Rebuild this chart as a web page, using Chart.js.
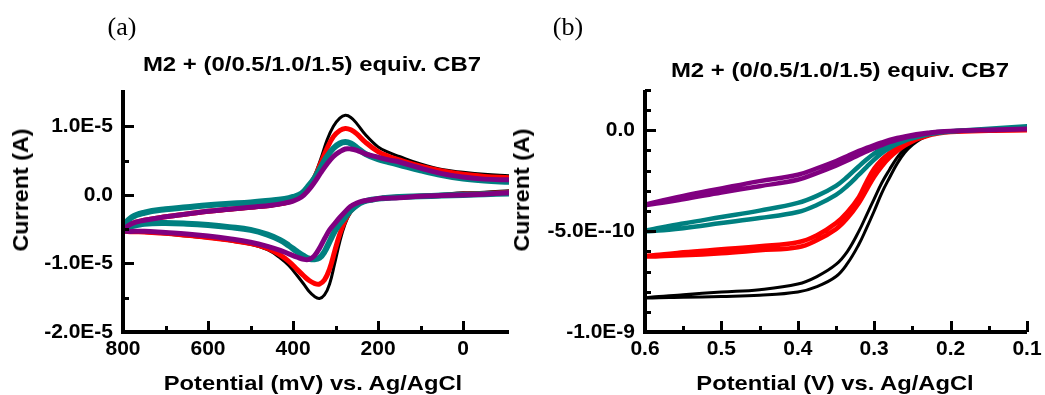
<!DOCTYPE html>
<html>
<head>
<meta charset="utf-8">
<script src="https://cdn.jsdelivr.net/npm/chart.js@4.4.0/dist/chart.umd.min.js"></script>
<style>
  html, body { margin: 0; padding: 0; background: #fff; }
  #wrap { position: relative; width: 1045px; height: 395px; overflow: hidden; background: #fff; }
  canvas { position: absolute; top: 0; }
  .t { position: absolute; white-space: nowrap; line-height: 1; color: #000;
       font-family: 'Liberation Sans', Arial, sans-serif; font-weight: bold; z-index: 2; }
  .pl { font-family: 'Liberation Serif', 'Times New Roman', serif; font-weight: normal; font-size: 26px;
        transform: translate(-50%, -50%); }
  .ttl { font-size: 21px; transform: translate(-50%, -50%) scaleX(1.14); }
  .xt { font-size: 21px; transform: translate(-50%, -50%) scaleX(1.13); }
  .yt { font-size: 22px; transform: translate(-50%, -50%) rotate(-90deg) scaleX(1.06); }
</style>
</head>
<body>
<div id="wrap">
  <canvas id="ca" width="520" height="395" style="left:0px"></canvas>
  <canvas id="cb" width="525" height="395" style="left:520px"></canvas>
  <div class="t pl" style="left:122px; top:27px;">(a)</div>
  <div class="t pl" style="left:568px; top:27px;">(b)</div>
  <div class="t ttl" style="left:312px; top:63px;">M2 + (0/0.5/1.0/1.5) equiv. CB7</div>
  <div class="t ttl" style="left:840px; top:69px;">M2 + (0/0.5/1.0/1.5) equiv. CB7</div>
  <div class="t yt" style="left:21px; top:190px;">Current (A)</div>
  <div class="t yt" style="left:522px; top:190px;">Current (A)</div>
  <div class="t xt" style="left:313px; top:382px;">Potential (mV) vs. Ag/AgCl</div>
  <div class="t xt" style="left:835px; top:382px;">Potential (V) vs. Ag/AgCl</div>
</div>
<script>
// ---------------- Panel (a): cyclic voltammograms ----------------
// Potential in mV, current in units of 1E-5 A
const unitA = 1e-5;
const cvUpperE = [800,780,750,700,650,600,550,500,450,420,400,380,365,350,335,320,305,290,277,264,250,230,200,175,150,100,50,0,-50,-108];
const cvUpperBlack  = [-0.50,-0.42,-0.37,-0.32,-0.28,-0.25,-0.22,-0.19,-0.16,-0.13,-0.09,-0.02,0.09,0.27,0.52,0.80,1.00,1.12,1.16,1.13,1.04,0.88,0.70,0.62,0.56,0.45,0.37,0.33,0.30,0.28];
const cvUpperRed    = [-0.50,-0.42,-0.37,-0.32,-0.28,-0.24,-0.21,-0.18,-0.15,-0.12,-0.08,-0.01,0.09,0.25,0.46,0.68,0.85,0.94,0.97,0.95,0.89,0.77,0.63,0.56,0.51,0.42,0.35,0.30,0.27,0.25];
const cvUpperTeal   = [-0.45,-0.33,-0.26,-0.21,-0.18,-0.15,-0.13,-0.11,-0.08,-0.06,-0.03,0.02,0.12,0.24,0.40,0.56,0.68,0.75,0.77,0.75,0.69,0.60,0.52,0.48,0.44,0.36,0.29,0.24,0.21,0.19];
const cvUpperPurple = [-0.50,-0.42,-0.37,-0.32,-0.28,-0.24,-0.21,-0.18,-0.15,-0.12,-0.09,-0.03,0.06,0.18,0.32,0.45,0.56,0.63,0.67,0.67,0.65,0.60,0.55,0.51,0.48,0.39,0.31,0.26,0.23,0.22];

const cvLowerE = [800,750,700,650,600,550,500,460,430,410,390,375,362,350,338,326,314,302,290,278,265,250,235,215,190,150,100,50,0,-50,-108];
const cvLowerBlack  = [-0.52,-0.55,-0.57,-0.60,-0.63,-0.67,-0.72,-0.80,-0.92,-1.03,-1.18,-1.30,-1.41,-1.48,-1.51,-1.46,-1.30,-1.00,-0.68,-0.43,-0.26,-0.15,-0.10,-0.07,-0.04,-0.02,-0.01,0.01,0.03,0.04,0.06];
const cvLowerRed    = [-0.52,-0.54,-0.56,-0.59,-0.62,-0.66,-0.71,-0.78,-0.88,-0.97,-1.09,-1.18,-1.25,-1.29,-1.30,-1.24,-1.08,-0.82,-0.57,-0.38,-0.24,-0.15,-0.10,-0.07,-0.05,-0.03,-0.02,-0.01,0.01,0.02,0.04];
const cvLowerTeal   = [-0.47,-0.42,-0.41,-0.42,-0.44,-0.47,-0.51,-0.58,-0.66,-0.74,-0.83,-0.89,-0.93,-0.94,-0.92,-0.83,-0.68,-0.53,-0.42,-0.33,-0.23,-0.15,-0.10,-0.07,-0.05,-0.03,-0.02,-0.01,0.00,0.01,0.02];
const cvLowerPurple = [-0.52,-0.53,-0.55,-0.57,-0.60,-0.64,-0.69,-0.75,-0.81,-0.86,-0.91,-0.94,-0.94,-0.89,-0.78,-0.64,-0.51,-0.42,-0.33,-0.25,-0.17,-0.12,-0.09,-0.07,-0.05,-0.04,-0.02,-0.01,0.00,0.01,0.03];

const aXMajor = [800, 600, 400, 200, 0];
const aXLabels = ['800', '600', '400', '200', '0'];
const aXMinor = [700, 500, 300, 100];
const aYMajor = [1e-5, 0, -1e-5, -2e-5];
const aYLabels = ['1.0E-5', '0.0', '-1.0E-5', '-2.0E-5'];
const aYMinor = [0.5e-5, -0.5e-5, -1.5e-5];

// ---------------- Panel (b): voltammograms, two sweeps per trace ----------------
// Potential in V, current in units of 1E-10 A
const unitB = 1e-10;
const lsvE = [0.60,0.55,0.50,0.45,0.40,0.375,0.35,0.335,0.32,0.31,0.30,0.29,0.28,0.27,0.26,0.25,0.24,0.23,0.22,0.20,0.15,0.10];
const lsvBlack1  = [-8.3,-8.15,-8.02,-7.9,-7.62,-7.25,-6.65,-6.0,-5.0,-4.2,-3.4,-2.6,-1.95,-1.35,-0.9,-0.6,-0.38,-0.22,-0.12,-0.02,0.05,0.08];
const lsvBlack2  = [-8.3,-8.28,-8.24,-8.18,-8.02,-7.75,-7.25,-6.6,-5.65,-4.85,-4.0,-3.1,-2.35,-1.65,-1.1,-0.72,-0.45,-0.27,-0.15,-0.04,0.04,0.06];
const lsvRed1    = [-6.25,-6.05,-5.9,-5.75,-5.55,-5.2,-4.6,-4.05,-3.3,-2.55,-1.9,-1.45,-1.12,-0.86,-0.64,-0.47,-0.33,-0.23,-0.15,-0.06,0.0,0.02];
const lsvRed2    = [-6.25,-6.2,-6.1,-5.95,-5.8,-5.45,-4.9,-4.35,-3.6,-2.95,-2.3,-1.78,-1.36,-1.03,-0.76,-0.55,-0.39,-0.27,-0.18,-0.08,-0.02,0.0];
const lsvTeal1   = [-5.0,-4.62,-4.3,-3.98,-3.6,-3.25,-2.75,-2.3,-1.78,-1.45,-1.15,-0.9,-0.7,-0.53,-0.4,-0.3,-0.22,-0.15,-0.1,-0.04,0.08,0.2];
const lsvTeal2   = [-5.0,-4.85,-4.6,-4.35,-4.05,-3.7,-3.2,-2.75,-2.2,-1.82,-1.45,-1.13,-0.88,-0.68,-0.52,-0.4,-0.3,-0.21,-0.14,-0.06,0.06,0.18];
const lsvPurple1 = [-3.7,-3.25,-2.88,-2.52,-2.2,-1.88,-1.52,-1.27,-1.02,-0.87,-0.73,-0.6,-0.48,-0.38,-0.3,-0.23,-0.17,-0.12,-0.08,-0.03,0.03,0.08];
const lsvPurple2 = [-3.7,-3.42,-3.08,-2.77,-2.45,-2.12,-1.75,-1.5,-1.22,-1.05,-0.88,-0.73,-0.59,-0.47,-0.37,-0.29,-0.22,-0.16,-0.11,-0.05,0.01,0.05];

const bXMajor = [0.6, 0.5, 0.4, 0.3, 0.2, 0.1];
const bXLabels = ['0.6', '0.5', '0.4', '0.3', '0.2', '0.1'];
const bXMinor = [0.55, 0.45, 0.35, 0.25, 0.15];
const bYMajor = [0, -5e-10, -1e-9];
const bYLabels = ['0.0', '-5.0E--10', '-1.0E-9'];
const bYMinor = [2e-10, 1e-10, -1e-10, -2e-10, -3e-10, -4e-10, -6e-10, -7e-10, -8e-10, -9e-10];

const colors = { black: '#000000', red: '#ff0000', teal: '#008080', purple: '#800080' };

// CV path: lower branch from right end to 800 mV, then upper branch back to right end
function cvPath(upper, lower) {
  const pts = [];
  for (let i = cvLowerE.length - 1; i >= 0; i--) pts.push({ x: cvLowerE[i], y: lower[i] * unitA });
  for (let i = 1; i < cvUpperE.length; i++) pts.push({ x: cvUpperE[i], y: upper[i] * unitA });
  return pts;
}
// LSV path: sweep 1 from 0.1 V to 0.6 V, sweep 2 back to 0.1 V
function lsvPath(s1, s2) {
  const pts = [];
  for (let i = lsvE.length - 1; i >= 0; i--) pts.push({ x: lsvE[i], y: s1[i] * unitB });
  for (let i = 1; i < lsvE.length; i++) pts.push({ x: lsvE[i], y: s2[i] * unitB });
  return pts;
}

// Axis lines and inward-pointing tick marks, positioned through the chart's scales
const inTicks = {
  id: 'inTicks',
  afterDraw(chart, args, o) {
    const ctx = chart.ctx, area = chart.chartArea;
    const xs = chart.scales.x, ys = chart.scales.y;
    ctx.save();
    ctx.strokeStyle = '#000';
    ctx.lineWidth = 4;
    ctx.lineJoin = 'miter';
    ctx.lineCap = 'butt';
    ctx.beginPath();
    ctx.moveTo(area.left, area.top);
    ctx.lineTo(area.left, area.bottom);
    ctx.lineTo(area.right, area.bottom);
    ctx.stroke();
    ctx.lineWidth = 3;
    const draw = (scale, vals, len) => vals.forEach(v => {
      const p = Math.round(scale.getPixelForValue(v)) + 0.5;
      ctx.beginPath();
      if (scale.isHorizontal()) { ctx.moveTo(p, area.bottom); ctx.lineTo(p, area.bottom - len); }
      else { ctx.moveTo(area.left, p); ctx.lineTo(area.left + len, p); }
      ctx.stroke();
    });
    draw(xs, o.xMajor, 11); draw(xs, o.xMinor, 6);
    draw(ys, o.yMajor, 11); draw(ys, o.yMinor, 6);
    ctx.restore();
  }
};

const tickFont = { family: "'Liberation Sans', Arial, sans-serif", size: 21, weight: 'bold' };

function makeChart(id, datasets, cfg) {
  return new Chart(document.getElementById(id), {
    type: 'line',
    data: { datasets },
    options: {
      responsive: false, animation: false, devicePixelRatio: 1,
      layout: { padding: { left: 0, right: cfg.padRight, top: 90, bottom: 0 } },
      elements: { point: { radius: 0 }, line: { tension: 0.4, borderCapStyle: 'round', borderJoinStyle: 'round' } },
      plugins: { legend: { display: false }, tooltip: { enabled: false }, inTicks: cfg.ticks },
      scales: {
        x: {
          type: 'linear', reverse: true, min: cfg.xMin, max: cfg.xMax,
          grid: { display: false, drawTicks: false },
          border: { display: false },
          afterBuildTicks: s => { s.ticks = cfg.ticks.xMajor.map(v => ({ value: v })); },
          afterFit: s => { s.height = 63; s.paddingLeft = 0; s.paddingRight = 0; },
          ticks: { autoSkip: false, maxRotation: 0, minRotation: 0, padding: 5, color: '#000', font: tickFont,
                   callback: (v, i) => cfg.xLabels[i] }
        },
        y: {
          type: 'linear', min: cfg.yMin, max: cfg.yMax,
          grid: { display: false, drawTicks: false },
          border: { display: false },
          afterBuildTicks: s => { s.ticks = cfg.ticks.yMajor.map(v => ({ value: v })); },
          afterFit: s => { s.width = cfg.yWidth; s.paddingTop = 0; s.paddingBottom = 0; },
          ticks: { autoSkip: false, padding: 10, color: '#000', font: tickFont,
                   callback: (v, i) => cfg.yLabels[i] }
        }
      }
    },
    plugins: [inTicks]
  });
}

function ds(data, color, width, order) {
  return { data, borderColor: color, backgroundColor: color, borderWidth: width, fill: false, order, pointRadius: 0 };
}

makeChart('ca', [
  ds(cvPath(cvUpperBlack, cvLowerBlack), colors.black, 3, 4),
  ds(cvPath(cvUpperRed, cvLowerRed), colors.red, 5, 3),
  ds(cvPath(cvUpperTeal, cvLowerTeal), colors.teal, 6, 2),
  ds(cvPath(cvUpperPurple, cvLowerPurple), colors.purple, 5, 1)
], {
  padRight: 11, yWidth: 123, xMin: -108, xMax: 800, yMin: -2e-5, yMax: 1.53e-5,
  xLabels: aXLabels, yLabels: aYLabels,
  ticks: { xMajor: aXMajor, xMinor: aXMinor, yMajor: aYMajor, yMinor: aYMinor }
});

makeChart('cb', [
  ds(lsvPath(lsvBlack1, lsvBlack2), colors.black, 3, 4),
  ds(lsvPath(lsvRed1, lsvRed2), colors.red, 4.5, 3),
  ds(lsvPath(lsvTeal1, lsvTeal2), colors.teal, 4.5, 2),
  ds(lsvPath(lsvPurple1, lsvPurple2), colors.purple, 4.5, 1)
], {
  padRight: 18, yWidth: 125, xMin: 0.1, xMax: 0.6, yMin: -1e-9, yMax: 2e-10,
  xLabels: bXLabels, yLabels: bYLabels,
  ticks: { xMajor: bXMajor, xMinor: bXMinor, yMajor: bYMajor, yMinor: bYMinor }
});
</script>
</body>
</html>
